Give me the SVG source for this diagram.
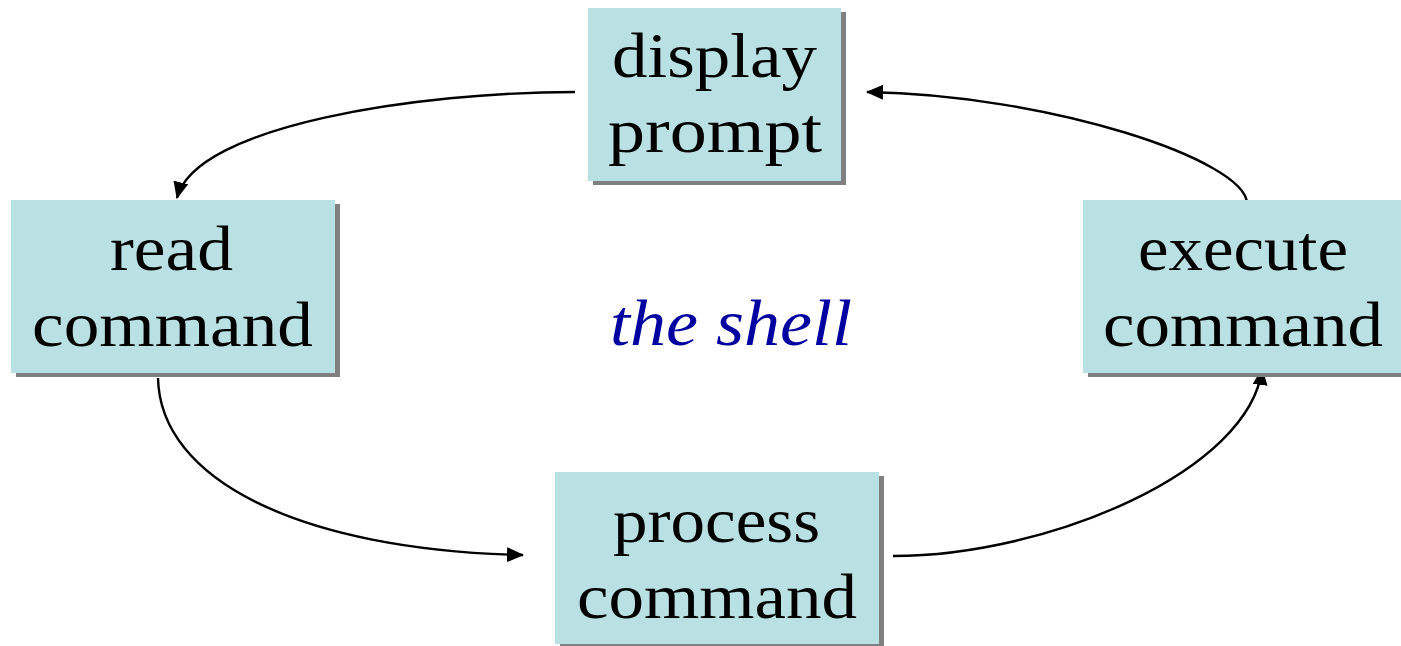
<svg xmlns="http://www.w3.org/2000/svg" width="1401" height="646" viewBox="0 0 1401 646">
<style>
.box{fill:#B9E0E3;}
.shadow{fill:#808080;}
.lbl{font-family:"Liberation Serif","Times New Roman",serif;font-size:64px;fill:#000;}
.title{font-family:"Liberation Serif","Times New Roman",serif;font-size:66px;font-style:italic;fill:#0000A0;}
.conn{fill:none;stroke:#000;stroke-width:2.4;}
</style>
<defs>
<marker id="ah" markerUnits="userSpaceOnUse" markerWidth="18" markerHeight="16" refX="16" refY="7.5" orient="auto">
<path d="M0,0 L17,7.5 L0,15 z" fill="#000"/>
</marker>
</defs>
<rect width="1401" height="646" fill="#fff"/>
<g id="connectors">
<path class="conn" d="M575,92 C420,92 195,125 177,198" marker-end="url(#ah)"/>
<path class="conn" d="M158,378 C160,480 300,550 523,555" marker-end="url(#ah)"/>
<path class="conn" d="M893,556 C1050,556 1250,470 1262,369" marker-end="url(#ah)"/>
<path class="conn" d="M1247,203 C1245,160 1050,95 867,92" marker-end="url(#ah)"/>
</g>
<g id="display-prompt">
<rect class="shadow" x="593" y="12" width="253" height="173"/>
<rect class="box" x="588" y="8" width="253" height="173"/>
<text class="lbl" x="612" y="77" textLength="205" lengthAdjust="spacingAndGlyphs">display</text>
<text class="lbl" x="608" y="152" textLength="214" lengthAdjust="spacingAndGlyphs">prompt</text>
</g>
<g id="read-command">
<rect class="shadow" x="16" y="204" width="324" height="173"/>
<rect class="box" x="11" y="200" width="324" height="173"/>
<text class="lbl" x="110" y="270" textLength="123" lengthAdjust="spacingAndGlyphs">read</text>
<text class="lbl" x="32" y="346" textLength="281" lengthAdjust="spacingAndGlyphs">command</text>
</g>
<g id="execute-command">
<rect class="shadow" x="1088" y="204" width="324" height="173"/>
<rect class="box" x="1083" y="200" width="324" height="173"/>
<text class="lbl" x="1138" y="270" textLength="210" lengthAdjust="spacingAndGlyphs">execute</text>
<text class="lbl" x="1103" y="346" textLength="280" lengthAdjust="spacingAndGlyphs">command</text>
</g>
<g id="process-command">
<rect class="shadow" x="560" y="476" width="324" height="172"/>
<rect class="box" x="555" y="472" width="324" height="172"/>
<text class="lbl" x="613" y="542" textLength="207" lengthAdjust="spacingAndGlyphs">process</text>
<text class="lbl" x="577" y="618" textLength="280" lengthAdjust="spacingAndGlyphs">command</text>
</g>
<g id="the-shell">
<text class="title" x="610" y="345" textLength="242" lengthAdjust="spacingAndGlyphs">the shell</text>
</g>
</svg>
